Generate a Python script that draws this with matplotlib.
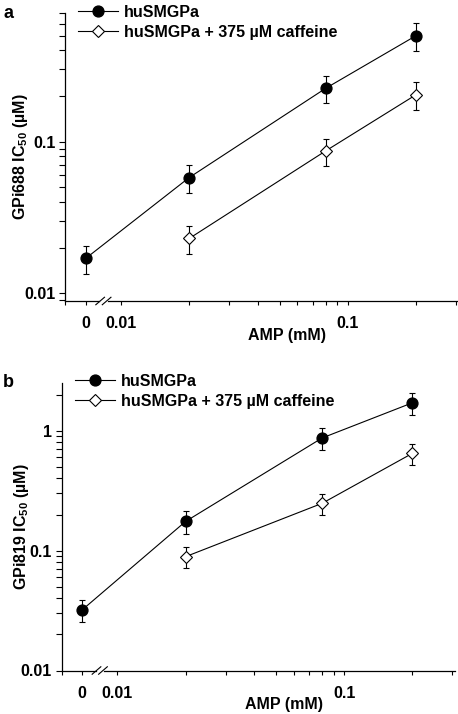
import numpy as np
import matplotlib
matplotlib.use('Agg')
import matplotlib.pyplot as plt
from matplotlib.ticker import FixedLocator, FixedFormatter, NullFormatter

plt.rcParams['font.family'] = ['Liberation Sans', 'DejaVu Sans']
plt.rcParams['font.weight'] = 'bold'
plt.rcParams['mathtext.fontset'] = 'custom'
plt.rcParams['mathtext.rm'] = 'Liberation Sans:bold'
plt.rcParams['mathtext.bf'] = 'Liberation Sans:bold'

# AMP concentrations (mM); 0 is drawn on a broken log axis
amp_ctrl = [0, 0.02, 0.08, 0.2]
amp_caf = [0.02, 0.08, 0.2]

# panel a: GPi688 IC50 (uM)
a_ctrl = [0.017, 0.058, 0.225, 0.50]
a_ctrl_err = [0.0035, 0.012, 0.046, 0.105]
a_caf = [0.023, 0.087, 0.204]
a_caf_err = [0.0047, 0.0175, 0.042]

# panel b: GPi819 IC50 (uM)
b_ctrl = [0.032, 0.175, 0.87, 1.71]
b_ctrl_err = [0.0065, 0.037, 0.18, 0.35]
b_caf = [0.089, 0.248, 0.648]
b_caf_err = [0.018, 0.05, 0.13]

labels = ['huSMGPa', 'huSMGPa + 375 µM caffeine']
zero_pos = 0.007   # where "0" sits on the log axis
W, H = 458, 714

fig = plt.figure(figsize=(W / 100, H / 100), dpi=100)


def panel(rect, ylim, yticks, ylabels, ctrl, ctrl_err, caf, caf_err, ylab, letter,
          leg_xy, xlim):
    l, t, r, b = rect
    ax = fig.add_axes([l / W, 1 - b / H, (r - l) / W, (b - t) / H])
    xc = [zero_pos if v == 0 else v for v in amp_ctrl]
    ax.errorbar(xc, ctrl, yerr=ctrl_err, fmt='none', ecolor='black',
                elinewidth=0.8, capsize=2.5, capthick=0.8, zorder=2)
    ax.errorbar(amp_caf, caf, yerr=caf_err, fmt='none', ecolor='black',
                elinewidth=0.8, capsize=2.5, capthick=0.8, zorder=2)
    h1, = ax.plot(xc, ctrl, '-o', color='black', lw=0.8, ms=7.8,
                  mfc='black', mec='black', zorder=3)
    h2, = ax.plot(amp_caf, caf, '-D', color='black', lw=0.8, ms=6.3,
                  mfc='white', mec='black', mew=0.8, zorder=3)
    ax.set_xscale('log')
    ax.set_yscale('log')
    ax.set_xlim(*xlim)
    ax.set_ylim(*ylim)
    for s in ['top', 'right']:
        ax.spines[s].set_visible(False)
    for s in ['left', 'bottom']:
        ax.spines[s].set_linewidth(0.9)
    ax.xaxis.set_major_locator(FixedLocator([xlim[0], zero_pos, 0.01, 0.1]))
    ax.xaxis.set_major_formatter(FixedFormatter(['', '0', '0.01', '0.1']))
    ax.xaxis.set_minor_locator(FixedLocator([0.02, 0.03, 0.04, 0.05, 0.06, 0.07,
                                             0.08, 0.09, 0.2, 0.3]))
    ax.xaxis.set_minor_formatter(NullFormatter())
    ax.yaxis.set_major_locator(FixedLocator(yticks))
    ax.yaxis.set_major_formatter(FixedFormatter(ylabels))
    minors = [m * 10.0 ** e for e in range(-3, 2) for m in range(2, 10)]
    ax.yaxis.set_minor_locator(FixedLocator([v for v in minors if ylim[0] <= v <= ylim[1]]))
    ax.yaxis.set_minor_formatter(NullFormatter())
    ax.tick_params(axis='y', which='both', direction='out', length=4, width=0.8,
                   labelsize=11.5, pad=3)
    ax.tick_params(axis='x', which='both', direction='out', length=2.8, width=0.8,
                   labelsize=11.5, pad=8)
    for lab in ax.get_xticklabels() + ax.get_yticklabels():
        lab.set_fontweight('bold')

    # axis break marks
    tr = ax.get_xaxis_transform()
    ax.plot([0.0082, 0.0086], [0, 0], color='white', lw=2, transform=tr,
            clip_on=False, zorder=4)
    for xb in [0.0081, 0.00865]:
        ax.plot([xb / 1.045, xb * 1.045], [-0.013, 0.013], color='black', lw=0.8,
                transform=tr, clip_on=False, zorder=5)

    ax.set_xlabel('AMP (mM)', fontsize=11.5, fontweight='bold')
    ax.xaxis.label.set_verticalalignment('center')
    ax.xaxis.set_label_coords(0.565, -0.12)
    ax.set_ylabel(ylab, fontsize=11.5, fontweight='bold')
    ax.yaxis.label.set_verticalalignment('center')
    ax.yaxis.set_label_coords((21 - l) / (r - l), 0.5)

    ax.legend([h1, h2], labels, loc='upper left', frameon=False,
              bbox_to_anchor=(leg_xy[0] / W, 1 - leg_xy[1] / H),
              bbox_transform=fig.transFigure, borderpad=0, borderaxespad=0,
              handlelength=2.5, handletextpad=0.4, labelspacing=0.3,
              prop={'size': 11.5, 'weight': 'bold'})
    fig.text(3 / W, 1 - leg_xy[1] / H, letter, fontsize=13,
             fontweight='bold', ha='left', va='top')
    return ax


panel((65, 13, 457.7, 301), (0.0089, 0.705), [0.01, 0.1], ['0.01', '0.1'],
      a_ctrl, a_ctrl_err, a_caf, a_caf_err, r'GPi688 IC$_{\mathbf{50}}$ (µM)', 'a',
      (78, 5), (0.00567, 0.305))
panel((61.7, 383, 455, 670.5), (0.01, 2.5), [0.01, 0.1, 1], ['0.01', '0.1', '1'],
      b_ctrl, b_ctrl_err, b_caf, b_caf_err, r'GPi819 IC$_{\mathbf{50}}$ (µM)', 'b',
      (75, 374), (0.00569, 0.308))

fig.savefig('out.png', dpi=100)
